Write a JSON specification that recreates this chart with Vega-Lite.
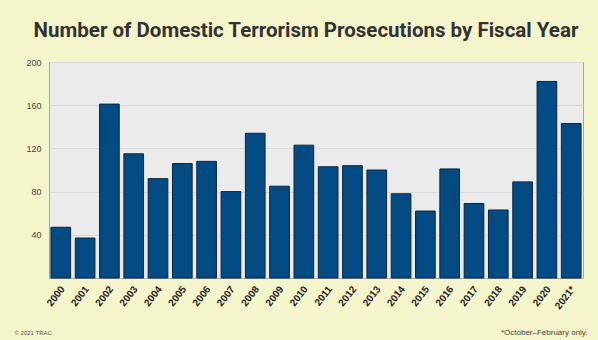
{
  "$schema": "https://vega.github.io/schema/vega-lite/v6.json",
  "width": 534,
  "height": 216,
  "autosize": "none",
  "padding": {"left": 49, "top": 62, "right": 15, "bottom": 62},
  "background": "#f5f5cc",
  "title": {
    "text": "Number of Domestic Terrorism Prosecutions by Fiscal Year",
    "font": "Roboto",
    "fontSize": 20.5,
    "fontWeight": "bold",
    "color": "#333333",
    "anchor": "middle",
    "dx": -10,
    "offset": 17
  },
  "data": {
    "values": [
      {"year": "2000", "count": 47},
      {"year": "2001", "count": 37},
      {"year": "2002", "count": 161},
      {"year": "2003", "count": 115},
      {"year": "2004", "count": 92},
      {"year": "2005", "count": 106},
      {"year": "2006", "count": 108},
      {"year": "2007", "count": 80},
      {"year": "2008", "count": 134},
      {"year": "2009", "count": 85},
      {"year": "2010", "count": 123},
      {"year": "2011", "count": 103},
      {"year": "2012", "count": 104},
      {"year": "2013", "count": 100},
      {"year": "2014", "count": 78},
      {"year": "2015", "count": 62},
      {"year": "2016", "count": 101},
      {"year": "2017", "count": 69},
      {"year": "2018", "count": 63},
      {"year": "2019", "count": 89},
      {"year": "2020", "count": 182},
      {"year": "2021*", "count": 143}
    ]
  },
  "mark": {"type": "bar", "fill": "#034b82", "stroke": "#0b2740", "strokeWidth": 1},
  "encoding": {
    "x": {
      "field": "year",
      "type": "ordinal",
      "sort": null,
      "scale": {"paddingInner": 0.19, "paddingOuter": 0.08},
      "axis": {
        "title": "*October\u2013February only.",
        "titleFont": "Liberation Sans",
        "titleFontSize": 8,
        "titleFontWeight": "normal",
        "titleColor": "#444444",
        "titleAnchor": "end",
        "titleAlign": "right",
        "titleBaseline": "alphabetic",
        "titleX": 538,
        "titleY": 56,
        "labelAngle": -52,
        "labelAlign": "right",
        "labelBaseline": "middle",
        "labelFont": "Liberation Sans",
        "labelFontSize": 10,
        "labelFontWeight": "bold",
        "labelColor": "#222222",
        "labelPadding": 9,
        "labelOffset": 2,
        "ticks": false,
        "domain": false
      }
    },
    "y": {
      "field": "count",
      "type": "quantitative",
      "scale": {"domain": [0, 200], "nice": false},
      "axis": {
        "title": "\u00a9 2021 TRAC",
        "titleFont": "Liberation Sans",
        "titleFontSize": 6,
        "titleFontWeight": "normal",
        "titleColor": "#555555",
        "titleAngle": 0,
        "titleAlign": "left",
        "titleBaseline": "alphabetic",
        "titleX": -35,
        "titleY": 272,
        "values": [40, 80, 120, 160, 200],
        "labelFont": "Liberation Sans",
        "labelFontSize": 9,
        "labelColor": "#444444",
        "labelPadding": 8,
        "ticks": false,
        "domain": false,
        "grid": true,
        "gridColor": "#d9d9d9",
        "gridWidth": 1
      }
    }
  },
  "config": {
    "view": {"fill": "#ebebeb", "stroke": "#a8a8a8", "strokeWidth": 1}
  }
}
